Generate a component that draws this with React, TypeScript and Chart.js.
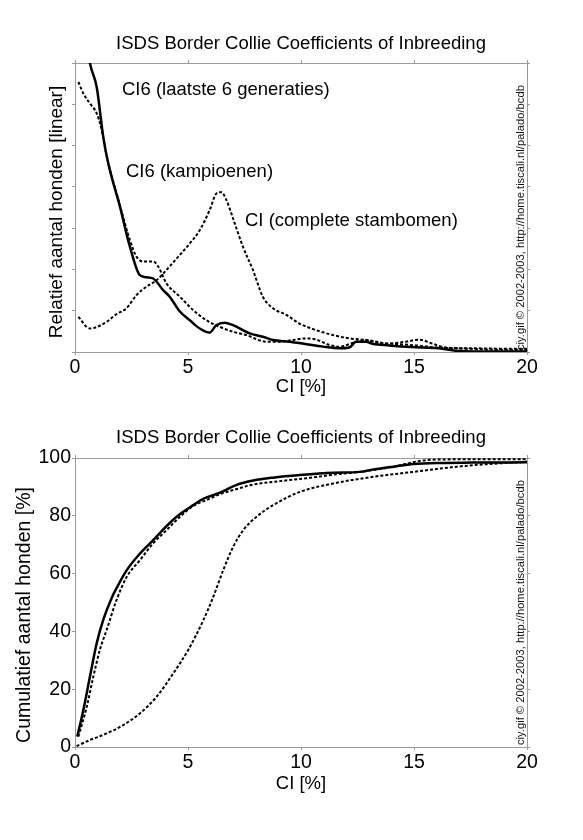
import React, { useEffect, useRef } from "react";
import { Chart, registerables } from "chart.js";

Chart.register(...registerables);

// ---- texts ----
const TITLE = "ISDS Border Collie Coefficients of Inbreeding";
const X_TITLE = "CI [%]";
const Y_TITLE_TOP = "Relatief aantal honden [linear]";
const Y_TITLE_BOTTOM = "Cumulatief aantal honden [%]";
const WATERMARK = "ciy.gif \u00A9 2002-2003, http://home.tiscali.nl/palado/bcdb";
const LABEL_CI6 = "CI6 (laatste 6 generaties)";
const LABEL_KAMP = "CI6 (kampioenen)";
const LABEL_CI = "CI (complete stambomen)";

// ---- ticks ----
const xTickValues = [0, 5, 10, 15, 20];
const yTickValuesTop = [0, 1, 2, 3, 4, 5, 6, 7];
const yTickValuesBottom = [0, 20, 40, 60, 80, 100];

// ---- top chart: relative distribution ----
const ci6X = [0.45, 0.66, 0.96, 1.25, 1.47, 1.99, 2.43, 2.87, 3.16, 3.46, 3.9, 4.19, 4.64, 5.08, 5.52, 5.96, 6.25, 6.62, 6.99, 7.73, 8.31, 8.76, 9.49, 10.23, 10.96, 11.7, 12.14, 12.44, 12.88, 13.17, 13.9, 14.64, 15.38, 16.1, 16.85, 17.6, 20];
const ci6Y = [7.8, 7.0, 6.42, 5.21, 4.57, 3.52, 2.55, 1.86, 1.81, 1.78, 1.5, 1.34, 0.98, 0.77, 0.57, 0.47, 0.65, 0.71, 0.65, 0.45, 0.37, 0.29, 0.25, 0.19, 0.13, 0.09, 0.11, 0.25, 0.25, 0.2, 0.16, 0.13, 0.11, 0.09, 0.03, 0.01, 0.01];

const kampX = [0.15, 0.37, 0.66, 0.96, 1.18, 1.4, 1.99, 2.43, 2.72, 3.02, 3.46, 3.68, 4.05, 4.64, 5.22, 5.81, 6.4, 6.99, 7.58, 8.46, 9.05, 9.64, 10.23, 10.67, 11.26, 11.7, 12.44, 12.88, 13.61, 14.35, 15.08, 15.97, 16.85, 18.3, 20];
const kampY = [6.54, 6.26, 6.02, 5.78, 5.38, 4.75, 3.55, 2.71, 2.31, 2.19, 2.19, 2.07, 1.66, 1.34, 1.02, 0.77, 0.61, 0.49, 0.41, 0.25, 0.25, 0.29, 0.33, 0.3, 0.17, 0.13, 0.25, 0.29, 0.22, 0.19, 0.16, 0.11, 0.09, 0.06, 0.05];

const completeX = [0.15, 0.66, 1.4, 1.84, 2.28, 2.72, 3.16, 3.61, 4.05, 4.64, 5.08, 5.52, 5.96, 6.26, 6.48, 6.7, 6.99, 7.43, 7.87, 8.31, 8.76, 9.35, 9.93, 10.67, 11.41, 12.14, 12.88, 13.76, 14.64, 15.23, 15.82, 16.4, 17.6, 19.1, 20];
const completeY = [0.85, 0.57, 0.73, 0.92, 1.06, 1.38, 1.58, 1.74, 1.99, 2.35, 2.63, 2.95, 3.44, 3.84, 3.87, 3.68, 3.24, 2.55, 1.99, 1.34, 1.06, 0.9, 0.69, 0.53, 0.41, 0.33, 0.29, 0.2, 0.25, 0.3, 0.2, 0.11, 0.09, 0.08, 0.08];

// ---- bottom chart: cumulative ----
const cumCi6X = [0.1, 0.37, 0.66, 0.96, 1.25, 1.62, 1.84, 2.29, 2.88, 3.46, 4.2, 4.65, 5.23, 5.68, 6.42, 7.15, 7.89, 8.77, 9.96, 11.43, 12.6, 13.2, 14.1, 14.97, 16.15, 17.6, 20];
const cumCi6Y = [3.6, 12.8, 24.3, 35.9, 44.0, 51.5, 55.0, 61.2, 67.0, 71.6, 77.6, 80.6, 83.7, 85.9, 88.0, 90.7, 92.2, 93.2, 94.1, 94.9, 95.2, 96.0, 97.0, 97.9, 98.3, 98.4, 98.5];

const cumKampX = [0.15, 0.52, 0.81, 1.1, 1.4, 1.84, 2.29, 2.88, 3.46, 4.06, 4.65, 5.23, 5.83, 6.42, 7.0, 7.89, 9.07, 10.25, 11.72, 12.6, 14.1, 15.27, 16.15, 20];
const cumKampY = [3.6, 13.9, 24.3, 33.6, 40.5, 50.9, 58.9, 64.7, 70.5, 75.1, 79.7, 83.4, 85.5, 87.5, 88.9, 90.8, 92.0, 93.0, 94.5, 95.2, 97.0, 99.0, 99.5, 99.6];

const cumCompleteX = [0.07, 0.66, 1.4, 2.14, 2.88, 3.61, 4.35, 5.01, 5.68, 6.12, 6.56, 7.0, 7.45, 8.04, 8.77, 9.96, 11.43, 13.2, 14.97, 16.9, 18.3, 20];
const cumCompleteY = [0.3, 2.4, 4.7, 7.6, 11.7, 17.4, 25.5, 33.6, 43.9, 52.0, 61.2, 69.3, 75.1, 79.7, 83.7, 88.3, 91.2, 93.5, 95.2, 97.0, 97.9, 98.7];

const FONT = "'Liberation Sans', Arial, sans-serif";
const AXIS_COLOR = "#9a9a9a";

function pts(xs: number[], ys: number[]) {
  return xs.map((x, i) => ({ x, y: ys[i] }));
}

function lineDs(xs: number[], ys: number[], dashed: boolean) {
  return {
    data: pts(xs, ys),
    borderColor: "#000",
    borderWidth: dashed ? 2 : 2.5,
    borderDash: dashed ? [3, 2] : [],
    pointRadius: 0,
    fill: false,
    cubicInterpolationMode: "monotone" as const,
    xAxisID: "x",
    yAxisID: "y",
  };
}

function grid() {
  return { drawOnChartArea: false, drawTicks: true, tickLength: 3, color: AXIS_COLOR, lineWidth: 1 };
}

function makeScales(yMax: number, yStep: number, yTicks: number[], showYLabels: boolean, topH: number, bottomH: number) {
  const border = { display: true, color: AXIS_COLOR, width: 1 };
  const xTickCfg = (show: boolean) => ({
    stepSize: 5,
    autoSkip: false,
    maxRotation: 0,
    padding: 1,
    color: "#000",
    font: { family: FONT, size: 19.5 },
    callback: (v: any) => (show && xTickValues.includes(Number(v)) ? String(v) : ""),
  });
  const yTickCfg = (show: boolean) => ({
    stepSize: yStep,
    autoSkip: false,
    padding: 1,
    color: "#000",
    font: { family: FONT, size: 19.5 },
    callback: (v: any) => (show && yTicks.includes(Number(v)) ? String(v) : ""),
  });
  return {
    x: {
      type: "linear", position: "bottom", min: 0, max: 20,
      ticks: xTickCfg(true), grid: grid(), border,
      afterFit: (s: any) => { s.height = bottomH; },
    },
    xTop: {
      type: "linear", position: "top", min: 0, max: 20,
      ticks: xTickCfg(false), grid: grid(), border,
      afterFit: (s: any) => { s.height = topH; },
    },
    y: {
      type: "linear", position: "left", min: 0, max: yMax,
      ticks: yTickCfg(showYLabels), grid: grid(), border,
      afterFit: (s: any) => { s.width = 75; },
    },
    yRight: {
      type: "linear", position: "right", min: 0, max: yMax,
      ticks: yTickCfg(false), grid: grid(), border,
      afterFit: (s: any) => { s.width = 56; },
    },
  };
}

function textPlugin(cfg: {
  titleY: number;
  yTitle: string;
  yTitleX: number;
  yTitleY: number;
  yTitleSize: number;
  xTitleY: number;
  wmX: number;
  wmBottom: number;
  labels: { text: string; x: number; y: number }[];
}) {
  return {
    id: "texts",
    afterDraw(chart: any) {
      const ctx = chart.ctx as CanvasRenderingContext2D;
      ctx.save();
      ctx.fillStyle = "#000";
      ctx.textBaseline = "middle";
      // title
      ctx.font = `18.5px ${FONT}`;
      ctx.textAlign = "center";
      ctx.fillText(TITLE, 301, cfg.titleY);
      // x title
      ctx.fillText(X_TITLE, 301, cfg.xTitleY);
      // annotation labels
      ctx.textAlign = "left";
      for (const l of cfg.labels) ctx.fillText(l.text, l.x, l.y);
      // y title
      ctx.save();
      ctx.translate(cfg.yTitleX, cfg.yTitleY);
      ctx.rotate(-Math.PI / 2);
      ctx.textAlign = "center";
      ctx.font = `${cfg.yTitleSize}px ${FONT}`;
      ctx.fillText(cfg.yTitle, 0, 0);
      ctx.restore();
      // watermark
      ctx.save();
      ctx.translate(cfg.wmX, cfg.wmBottom);
      ctx.rotate(-Math.PI / 2);
      ctx.textAlign = "left";
      ctx.font = `11.2px ${FONT}`;
      ctx.fillStyle = "#111";
      ctx.fillText(WATERMARK, 0, 0);
      ctx.restore();
      ctx.restore();
    },
  };
}

export default function App() {
  const topRef = useRef<HTMLCanvasElement | null>(null);
  const botRef = useRef<HTMLCanvasElement | null>(null);

  useEffect(() => {
    const common = {
      responsive: false,
      animation: false as const,
      layout: { padding: 0 },
      plugins: { legend: { display: false }, tooltip: { enabled: false }, title: { display: false } },
    };

    const top = new Chart(topRef.current as HTMLCanvasElement, {
      type: "line",
      data: {
        datasets: [
          lineDs(ci6X, ci6Y, false),
          lineDs(kampX, kampY, true),
          lineDs(completeX, completeY, true),
        ] as any,
      },
      options: { ...common, scales: makeScales(7, 1, yTickValuesTop, false, 63, 68) as any } as any,
      plugins: [
        textPlugin({
          titleY: 44,
          yTitle: Y_TITLE_TOP,
          yTitleX: 57,
          yTitleY: 212,
          yTitleSize: 19,
          xTitleY: 387,
          wmX: 521,
          wmBottom: 350,
          labels: [
            { text: LABEL_CI6, x: 122, y: 90 },
            { text: LABEL_KAMP, x: 126, y: 172 },
            { text: LABEL_CI, x: 245, y: 221 },
          ],
        }),
      ],
    });

    const bot = new Chart(botRef.current as HTMLCanvasElement, {
      type: "line",
      data: {
        datasets: [
          lineDs(cumCi6X, cumCi6Y, false),
          lineDs(cumKampX, cumKampY, true),
          lineDs(cumCompleteX, cumCompleteY, true),
        ] as any,
      },
      options: { ...common, scales: makeScales(100, 20, yTickValuesBottom, true, 38, 93) as any } as any,
      plugins: [
        textPlugin({
          titleY: 18,
          yTitle: Y_TITLE_BOTTOM,
          yTitleX: 25,
          yTitleY: 195,
          yTitleSize: 19.5,
          xTitleY: 364,
          wmX: 521,
          wmBottom: 325,
          labels: [],
        }),
      ],
    });

    return () => {
      top.destroy();
      bot.destroy();
    };
  }, []);

  return (
    <div style={{ position: "absolute", left: 0, top: 0, width: 583, height: 840, background: "#fff" }}>
      <canvas ref={topRef} width={583} height={420} style={{ display: "block", width: 583, height: 420 }} />
      <canvas ref={botRef} width={583} height={420} style={{ display: "block", width: 583, height: 420 }} />
    </div>
  );
}
